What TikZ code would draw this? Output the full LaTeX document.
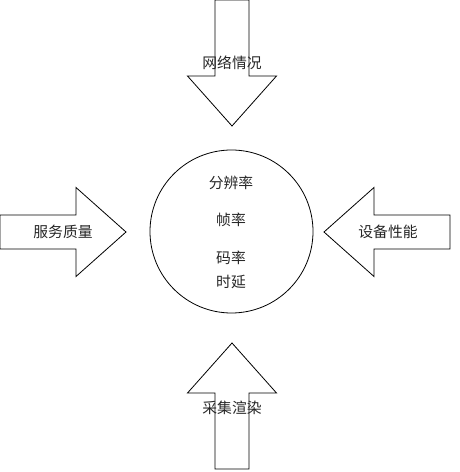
\documentclass[tikz,border=0pt]{standalone}
\usepackage{fontspec}
\newfontfamily\cjk{Noto Sans CJK SC}
\usetikzlibrary{positioning}

\tikzset{
  pics/blockarrow/.style={code={
    \draw[arrowshape] (0,17) -- (76,17) -- (76,44.5) -- (126,0)
      -- (76,-44.5) -- (76,-17) -- (0,-17) -- cycle;
  }}
}

\begin{document}
\begin{tikzpicture}[
  x=1pt,y=1pt,
  arrowshape/.style={draw,line width=0.8pt,fill=white,line join=miter},
  lbl/.style={font=\cjk\fontsize{14.8}{17}\selectfont,text=black!85,inner sep=0pt},
  ring/.style={draw,circle,line width=0.8pt,minimum size=163pt,inner sep=0pt}
]
\useasboundingbox (0,0) rectangle (460,472);

% four block arrows
\pic[rotate=-90] at (232,472) {blockarrow};
\pic at (0,240) {blockarrow};
\pic[rotate=180] at (450,240) {blockarrow};
\pic[rotate=90] at (232,3) {blockarrow};

% centre circle
\node[ring] (params) at (231.5,240.5) {};
\node[lbl] (res) at (231,289) {分辨率};
\node[lbl] (fps) at (231,252) {帧率};
\node[lbl] (bitrate) at (231,214) {码率};
\node[lbl] (delay) at (231,190) {时延};

% arrow labels
\node[lbl] (net) at (232,409) {网络情况};
\node[lbl] (qos) at (63,240) {服务质量};
\node[lbl] (dev) at (388,240) {设备性能};
\node[lbl] (cap) at (232,64) {采集渲染};
\end{tikzpicture}
\end{document}
